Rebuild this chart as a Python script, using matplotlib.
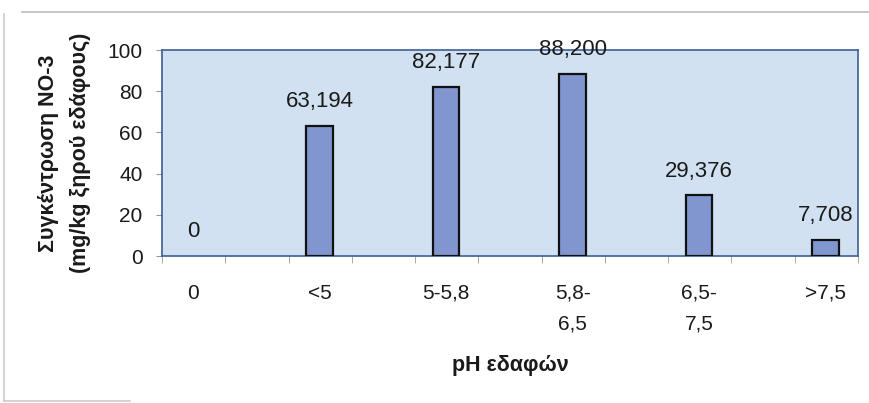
import matplotlib.pyplot as plt
from matplotlib.lines import Line2D

categories = ['0', '<5', '5-5,8', '5,8-\n6,5', '6,5-\n7,5', '>7,5']
values = [0, 63.194, 82.177, 88.200, 29.376, 7.708]
value_labels = ['0', '63,194', '82,177', '88,200', '29,376', '7,708']

plt.rcParams['font.family'] = ['Liberation Sans', 'DejaVu Sans']

fig = plt.figure(figsize=(8.69, 4.03), dpi=100)
ax = fig.add_axes((162 / 869, 1 - 256 / 403, 696 / 869, 206 / 403))
ax.set_facecolor('#d1e1f2')

x = list(range(len(categories)))
# empty category has no visible bar outline in the original
widths = [0 if v == 0 else 1.6 for v in values]
bars = ax.bar(x, values, width=0.21, color='#8196cf', edgecolor='#111111', linewidth=widths, zorder=3)

for bar, text in zip(bars, value_labels):
    ax.annotate(text, (bar.get_x() + bar.get_width() / 2, bar.get_height()),
                xytext=(0, 10), textcoords='offset points', ha='center', va='bottom',
                fontsize=16, color='#1a1a1a', zorder=5, annotation_clip=False)

ax.set_xlim(-0.245, 5.24)
ax.set_ylim(0, 100)
ax.set_yticks(range(0, 101, 20))
ax.tick_params(axis='y', labelsize=15, length=4, color='#999999', pad=10, labelcolor='#1a1a1a')

ax.set_xticks(x, categories, fontsize=15, color='#1a1a1a', linespacing=1.75)
ax.tick_params(axis='x', which='major', length=0, pad=20)
ax.set_xticks([-0.245 + 0.5 * k for k in range(12)], minor=True)
ax.tick_params(axis='x', which='minor', length=5, color='#999999')

for side in ax.spines.values():
    side.set_color('#3d5f93')
    side.set_linewidth(1.2)

ax.set_ylabel('Συγκέντρωση NO-3\n(mg/kg ξηρού εδάφους)', fontsize=15.5, fontweight='bold',
              color='#1a1a1a', labelpad=12, linespacing=1.7)
ax.set_xlabel('pH εδαφών', fontsize=15.5, fontweight='bold', color='#1a1a1a', labelpad=16)

# faint outer chart border like the pasted Excel chart
fig.add_artist(Line2D([22 / 869, 1], [1 - 12 / 403, 1 - 12 / 403], color='#bbbbbb', lw=1.2))
fig.add_artist(Line2D([4 / 869, 4 / 869], [2 / 403, 1 - 14 / 403], color='#cccccc', lw=1.2))
fig.add_artist(Line2D([4 / 869, 130 / 869], [2 / 403, 2 / 403], color='#cccccc', lw=1.2))

fig.savefig('out.png', dpi=100)
